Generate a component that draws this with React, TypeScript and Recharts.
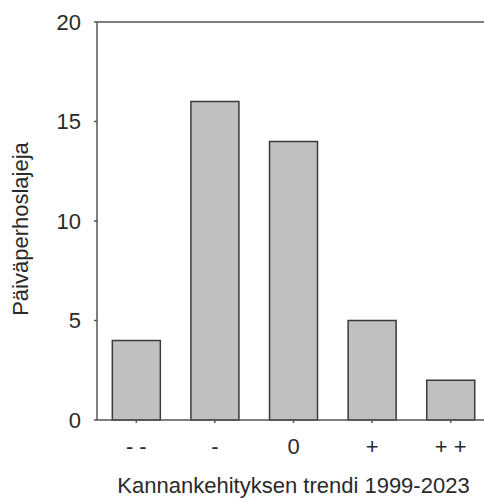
import { Bar, BarChart, ReferenceLine, XAxis, YAxis } from 'recharts'

const trendLabels = ['- -', '-', '0', '+', '+ +']
const speciesCounts = [4, 16, 14, 5, 2]
const yTicks = [0, 5, 10, 15, 20]

const data = trendLabels.map((trend, i) => ({ trend, count: speciesCounts[i] }))

const font = '"Liberation Sans", Arial, sans-serif'
const axisColor = '#555'
const textColor = '#2a2a2a'

const YTitle = ({ viewBox }: any) => {
  const x = 20
  const y = viewBox.y + viewBox.height / 2 + 8
  return (
    <text
      x={x}
      y={y}
      transform={`rotate(-90 ${x} ${y})`}
      textAnchor="middle"
      dominantBaseline="central"
      fill={textColor}
      style={{ fontSize: 22, fontFamily: font }}
    >
      Päiväperhoslajeja
    </text>
  )
}

export default function App() {
  return (
    <div
      style={{
        position: 'absolute',
        left: 0,
        top: 0,
        width: 484,
        height: 498,
        overflow: 'hidden',
        background: '#fff',
      }}
    >
      <BarChart
        width={500}
        height={498}
        data={data}
        margin={{ top: 22, right: 10, bottom: 0, left: 0 }}
        barCategoryGap="19.5%"
      >
        <XAxis
          dataKey="trend"
          height={78}
          stroke={axisColor}
          strokeWidth={1.5}
          tickSize={3}
          tickMargin={15}
          tick={{ fill: textColor, fontSize: 22, fontFamily: font }}
          label={{
            value: 'Kannankehityksen trendi 1999-2023',
            position: 'insideBottom',
            offset: 5,
            fill: textColor,
            fontSize: 22,
            fontFamily: font,
          }}
        />
        <YAxis
          width={97}
          domain={[0, 20]}
          ticks={yTicks}
          stroke={axisColor}
          strokeWidth={1.5}
          tickSize={3}
          tickMargin={13}
          tick={{ fill: textColor, fontSize: 22, fontFamily: font }}
          label={{ content: YTitle }}
        />
        <ReferenceLine y={20} stroke={axisColor} strokeWidth={1.5} />
        <Bar
          dataKey="count"
          fill="#c0c0c0"
          stroke="#3a3a3a"
          strokeWidth={1.5}
          isAnimationActive={false}
        />
      </BarChart>
    </div>
  )
}
